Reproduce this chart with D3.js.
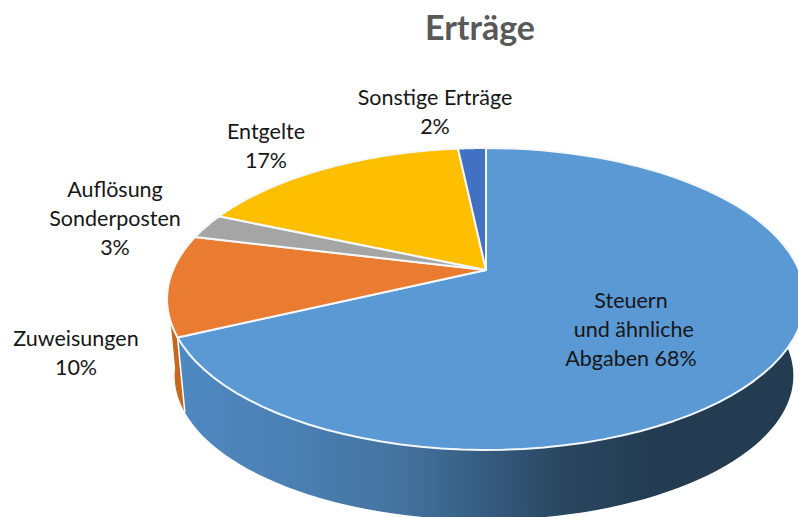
<!DOCTYPE html>
<html><head><meta charset="utf-8">
<script src="https://cdnjs.cloudflare.com/ajax/libs/d3/7.8.5/d3.min.js"></script>
<style>html,body{margin:0;padding:0;background:#fff}svg{display:block}text{font-family:Lato,"Open Sans",sans-serif}</style>
</head><body><svg id="c" width="798" height="517"></svg>
<script>
const categories = ["Steuern und ähnliche Abgaben","Zuweisungen","Auflösung Sonderposten","Entgelte","Sonstige Erträge"];
const sliceValues = [68,10.8,2.7,16.8,1.7];
const sliceColors = ["#5b99d5","#e97c30","#a5a5a5","#fdbf00","#4270c2"];
const labelLines = [["Steuern"," und ähnliche","Abgaben 68%"],["Zuweisungen","10%"],["Auflösung","Sonderposten","3%"],["Entgelte","17%"],["Sonstige Erträge","2%"]];
const labelX = [631,76,115,266,435];
const labelY = [308,346,197,139,105];
const wallStops = [[175,"#4f89c2"],[300,"#4a7fb2"],[400,"#44739f"],[480,"#365d82"],[560,"#2a4760"],[650,"#233c52"],[800,"#233c52"]];

const svg = d3.select("#c");
const pie = d3.pie().sort(null).value(d=>d)(sliceValues);
const P = 0.192, A = 313, B = 145.4, AX = 486, AY = 270;
const proj = (t,k)=>{
  const s = 1/(1+P*Math.cos(t));
  return k===0 ? [AX + A*Math.sin(t)*s, AY - B*Math.cos(t)*s]
               : [AX - 2 + 0.97*A*Math.sin(t)*s, AY + 78 - 0.955*B*Math.cos(t)*s];
};
const arcPts = (a,b,k)=>{const n=80;return d3.range(n+1).map(i=>proj(a+(b-a)*i/n,k));};
const line = d3.line();

const defs = svg.append("defs");
const grad = defs.append("linearGradient").attr("id","wall").attr("gradientUnits","userSpaceOnUse")
  .attr("x1",175).attr("x2",800).attr("y1",0).attr("y2",0);
const off = d3.scaleLinear().domain([175,800]).range([0,1]);
grad.selectAll("stop").data(wallStops).join("stop").attr("offset",d=>off(d[0])).attr("stop-color",d=>d[1]);

// side walls
const blueEnd = pie[0].endAngle;
const orangeWallEnd = blueEnd + 0.30;
svg.append("path").attr("fill","#c4691f")
  .attr("d", line(arcPts(blueEnd,orangeWallEnd,0).concat(arcPts(orangeWallEnd,blueEnd,1)))+"Z");
const wallStart = 1.32;
svg.append("path").attr("fill","url(#wall)")
  .attr("d", line(arcPts(wallStart,blueEnd,0).concat(arcPts(blueEnd,wallStart,1)))+"Z");
svg.append("path").attr("fill","none").attr("stroke","#fff").attr("stroke-width",1.5)
  .attr("d", line([proj(blueEnd,0),proj(blueEnd,1)]));

// top face
svg.selectAll("path.slice").data(pie).join("path").attr("class","slice")
  .attr("fill",(d,i)=>sliceColors[i]).attr("stroke","#f4f8fb").attr("stroke-width",2).attr("stroke-linejoin","round")
  .attr("d",d=>line([[AX,AY]].concat(arcPts(d.startAngle,d.endAngle,0)))+"Z");

// labels
const g = svg.append("g").attr("font-size",21.5).attr("fill","#161616").attr("text-anchor","middle");
labelLines.forEach((ls,i)=>ls.forEach((t,j)=>{
  g.append("text").attr("x",labelX[i]).attr("y",labelY[i]+j*29).attr("xml:space","preserve").text(t);
}));
svg.append("text").attr("x",480).attr("y",40).attr("text-anchor","middle").attr("font-size",34).attr("font-weight",700).attr("fill","#595959").text("Erträge");
</script></body></html>
